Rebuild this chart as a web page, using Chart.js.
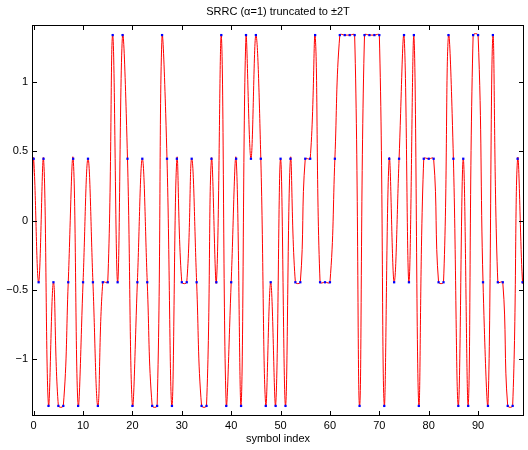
<!DOCTYPE html>
<html>
<head>
<meta charset="utf-8">
<title>SRRC truncated</title>
<script src="https://cdn.jsdelivr.net/npm/chart.js@4"></script>
<style>
    html, body { margin: 0; padding: 0; background: #fff; }
    #wrap { width: 528px; height: 450px; }
</style>
</head>
<body>
<div id="wrap"><canvas id="chart" width="528" height="450"></canvas></div>
<script>
// Symbol values (4-PAM levels)
const symbolValues = [
    0.447, -0.447, 0.447, -1.342, -0.447, -1.342, -1.342, -0.447, 0.447, -1.342,
    -0.447, 0.447, -0.447, -1.342, -0.447, -0.447, 1.342, -0.447, 1.342, 0.447,
    -1.342, -0.447, 0.447, -0.447, -1.342, -1.342, 1.342, 0.447, -1.342, 0.447,
    -0.447, -0.447, 0.447, -0.447, -1.342, -1.342, 0.447, -0.447, 1.342, -1.342,
    -0.447, 0.447, -1.342, 1.342, 0.447, 1.342, 0.447, -1.342, -0.447, -1.342,
    0.447, -1.342, 0.447, -0.447, -0.447, 0.447, 0.447, 1.342, -0.447, -0.447,
    -0.447, 0.447, 1.342, 1.342, 1.342, 1.342, -1.342, 1.342, 1.342, 1.342,
    1.342, -1.342, 0.447, -0.447, 0.447, 1.342, -0.447, 1.342, -1.342, 0.447,
    0.447, 0.447, -0.447, -0.447, 1.342, 0.447, -1.342, 0.447, -1.342, 1.342,
    1.342, -0.447, -1.342, 1.342, -0.447, -0.447, -1.342, -1.342, 0.447, -0.447
];

// Where the filtered curve meets the left and right edges of the plot
const curveEdgeX = [-0.34, 99.3];
const curveEdgeY = [0.22, -0.27];

// Axis ticks
const xTicks = [0, 10, 20, 30, 40, 50, 60, 70, 80, 90];
const yTicks = [-1, -0.5, 0, 0.5, 1];
const xRange = [-0.34, 99.3];
const yRange = [-1.415, 1.415];

const titleText = 'SRRC (\u03b1=1) truncated to \u00b12T';
const fontFamily = '"Liberation Sans", Arial, Helvetica, sans-serif';

// Build points from the arrays
const symbolPoints = symbolValues.map((v, k) => ({ x: k, y: v }));
const curvePoints = [{ x: curveEdgeX[0], y: curveEdgeY[0] }]
    .concat(symbolPoints)
    .concat([{ x: curveEdgeX[1], y: curveEdgeY[1] }]);

// Box around the plot, inward ticks on all four sides, title
const boxPlugin = {
    id: 'box',
    afterDraw(chart) {
        const ctx = chart.ctx;
        const a = chart.chartArea;
        const xs = chart.scales.x;
        const ys = chart.scales.y;
        const tick = 5;

        ctx.save();
        ctx.strokeStyle = '#000';
        ctx.lineWidth = 1;
        ctx.strokeRect(Math.round(a.left) + 0.5, Math.round(a.top) + 0.5,
            Math.round(a.right - a.left) - 1, Math.round(a.bottom - a.top) - 1);

        ctx.beginPath();
        xTicks.forEach(v => {
            const px = Math.round(xs.getPixelForValue(v)) + 0.5;
            ctx.moveTo(px, a.bottom);
            ctx.lineTo(px, a.bottom - tick);
            ctx.moveTo(px, a.top);
            ctx.lineTo(px, a.top + tick);
        });
        yTicks.forEach(v => {
            const py = Math.round(ys.getPixelForValue(v)) + 0.5;
            ctx.moveTo(a.left, py);
            ctx.lineTo(a.left + tick, py);
            ctx.moveTo(a.right, py);
            ctx.lineTo(a.right - tick, py);
        });
        ctx.stroke();

        // title centred over the plot area
        ctx.fillStyle = '#000';
        ctx.font = '11px ' + fontFamily;
        ctx.textAlign = 'center';
        ctx.textBaseline = 'middle';
        ctx.fillText(titleText, (a.left + a.right) / 2, 12);
        ctx.restore();
    }
};

function formatTick(v) {
    return String(v).replace('-', '\u2212');
}

Chart.defaults.font.family = fontFamily;
Chart.defaults.font.size = 11;
Chart.defaults.color = '#000';

new Chart(document.getElementById('chart'), {
    type: 'scatter',
    data: {
        datasets: [
            {
                label: 'symbols',
                data: symbolPoints,
                showLine: false,
                pointStyle: 'rect',
                pointRadius: 1.6,
                pointBorderWidth: 0,
                backgroundColor: '#0000ff',
                borderColor: '#0000ff',
                order: 1
            },
            {
                label: 'SRRC output',
                data: curvePoints,
                showLine: true,
                borderColor: '#ff0000',
                borderWidth: 1,
                pointRadius: 0,
                tension: 0.4,
                order: 2
            }
        ]
    },
    options: {
        responsive: false,
        animation: false,
        layout: { padding: { top: 25, right: 1, left: 0, bottom: 0 } },
        plugins: {
            legend: { display: false },
            tooltip: { enabled: false },
            title: { display: false }
        },
        scales: {
            x: {
                type: 'linear',
                min: xRange[0],
                max: xRange[1],
                grid: { display: false, drawTicks: false },
                border: { display: false },
                afterBuildTicks: scale => { scale.ticks = xTicks.map(v => ({ value: v })); },
                afterFit: scale => { scale.height = 34; },
                ticks: { padding: 3, maxRotation: 0, callback: v => formatTick(v) },
                title: { display: true, text: 'symbol index', padding: { top: 0, bottom: 4 } }
            },
            y: {
                type: 'linear',
                min: yRange[0],
                max: yRange[1],
                grid: { display: false, drawTicks: false },
                border: { display: false },
                afterBuildTicks: scale => { scale.ticks = yTicks.map(v => ({ value: v })); },
                afterFit: scale => { scale.width = 32; },
                ticks: { padding: 4, callback: v => formatTick(v) }
            }
        }
    },
    plugins: [boxPlugin]
});
</script>
</body>
</html>
